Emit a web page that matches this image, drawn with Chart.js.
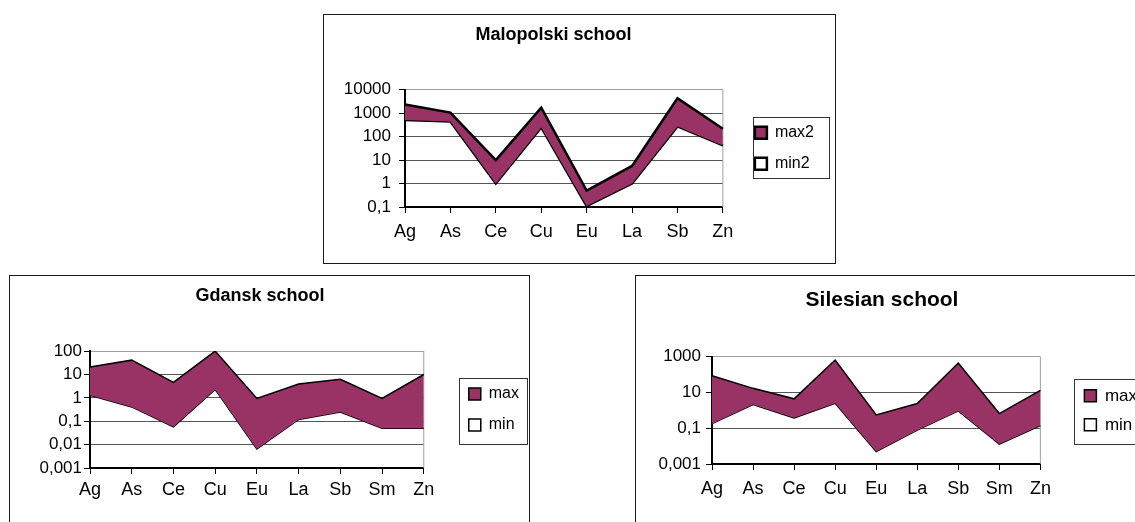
<!DOCTYPE html>
<html>
<head>
<meta charset="utf-8">
<title>Schools</title>
<script src="https://cdn.jsdelivr.net/npm/chart.js@4.4.1/dist/chart.umd.min.js"></script>
<style>
  html, body { margin: 0; padding: 0; background: #fff; width: 1135px; height: 522px; overflow: hidden; }
  .box { position: absolute; border: 1px solid #1a1a1a; background: #fff; }
  .wrap { position: absolute; }
</style>
</head>
<body>
<div class="box" style="left:323px; top:14px; width:511px; height:248px;"></div>
<div class="box" style="left:9px; top:275px; width:519px; height:300px;"></div>
<div class="box" style="left:635px; top:275px; width:600px; height:300px;"></div>

<div class="wrap" style="left:283px; top:15px; width:555px; height:248px;"><canvas id="malopolski"></canvas></div>
<div class="wrap" style="left:-9px; top:276px; width:538px; height:246px;"><canvas id="gdansk"></canvas></div>
<div class="wrap" style="left:617px; top:276px; width:530px; height:246px;"><canvas id="silesian"></canvas></div>

<script>
// Malopolski school
const malLabels = ['Ag', 'As', 'Ce', 'Cu', 'Eu', 'La', 'Sb', 'Zn'];
const malMax = [2300, 1050, 10, 1700, 0.5, 5.6, 4300, 215];
const malMin = [510, 440, 1, 245, 0.11, 1, 270, 42];
const malTicks = [0.1, 1, 10, 100, 1000, 10000];

// Gdansk school
const gdaLabels = ['Ag', 'As', 'Ce', 'Cu', 'Eu', 'La', 'Sb', 'Sm', 'Zn'];
const gdaMax = [21, 41, 4.6, 100, 0.95, 3.9, 6.2, 0.95, 10];
const gdaMin = [1.3, 0.41, 0.058, 2.3, 0.0065, 0.12, 0.25, 0.05, 0.05];
const gdaTicks = [0.001, 0.01, 0.1, 1, 10, 100];

// Silesian school
const silLabels = ['Ag', 'As', 'Ce', 'Cu', 'Eu', 'La', 'Sb', 'Sm', 'Zn'];
const silMax = [87, 17, 4.4, 650, 0.56, 2.4, 440, 0.66, 13];
const silMin = [0.18, 2.1, 0.38, 2.5, 0.005, 0.078, 0.93, 0.013, 0.14];
const silTicks = [0.001, 0.1, 10, 1000];

Chart.defaults.font.family = '"Liberation Sans", Arial, sans-serif';
Chart.defaults.color = '#000';

const plum = '#993366';

// gray frame on the right side of the plot area
const plotFrame = {
  id: 'plotFrame',
  beforeDatasetsDraw(chart) {
    const { ctx, chartArea: a } = chart;
    ctx.save();
    ctx.strokeStyle = '#a0a0a0';
    ctx.lineWidth = 1;
    ctx.beginPath();
    ctx.moveTo(a.right, a.top);
    ctx.lineTo(a.right, a.bottom);
    ctx.stroke();
    ctx.restore();
  }
};

// box around the legend, like excel
const legendFrame = {
  id: 'legendFrame',
  afterDraw(chart, args, opts) {
    const hb = chart.legend && chart.legend.legendHitBoxes;
    if (!hb || !hb.length) return;
    const first = hb[0];
    const last = hb[hb.length - 1];
    const left = first.left - opts.l;
    const right = Math.max(...hb.map(h => h.left + h.width)) + opts.r;
    const top = first.top - opts.t;
    const bottom = last.top + last.height + opts.b;
    const ctx = chart.ctx;
    ctx.save();
    ctx.strokeStyle = '#333';
    ctx.lineWidth = 1;
    ctx.strokeRect(Math.round(left) + 0.5, Math.round(top) + 0.5, Math.round(right - left), Math.round(bottom - top));
    ctx.restore();
  }
};

function schoolChart(id, s) {
  const yMin = s.ticks[0];
  const yMax = s.ticks[s.ticks.length - 1];
  return new Chart(document.getElementById(id), {
    type: 'line',
    data: {
      labels: s.labels,
      datasets: [
        {
          label: s.names[0],
          data: s.max,
          yAxisID: 'y',
          borderColor: '#000',
          borderWidth: s.lw,
          backgroundColor: plum,
          fill: '+1',
          pointRadius: 0,
          tension: 0,
        },
        {
          label: s.names[1],
          data: s.min,
          yAxisID: 'y',
          borderColor: '#000',
          borderWidth: s.lw,
          backgroundColor: '#fff',
          fill: false,
          pointRadius: 0,
          tension: 0,
        },
      ],
    },
    options: {
      responsive: true,
      maintainAspectRatio: false,
      animation: false,
      layout: { padding: { left: 0, top: 0, bottom: 0, right: s.padR } },
      scales: {
        x: {
          offset: false,
          afterFit: (sc) => { sc.height = s.xH; },
          grid: { drawOnChartArea: false, tickLength: 6, tickColor: '#000' },
          border: { color: '#000', width: 2 },
          ticks: { font: { size: 18 }, color: '#000', padding: s.xPad, maxRotation: 0, autoSkip: false },
        },
        y: {
          type: 'logarithmic',
          min: yMin,
          max: yMax,
          afterBuildTicks: (sc) => { sc.ticks = s.ticks.map(v => ({ value: v })); },
          afterFit: (sc) => { sc.width = s.yW; },
          grid: {
            color: (c) => (c.tick && c.tick.value === yMax ? '#a0a0a0' : '#555'),
            tickColor: '#000',
            tickLength: 6,
          },
          border: { color: '#000', width: 2 },
          ticks: {
            font: { size: 17 },
            color: '#000',
            padding: s.yPad,
            autoSkip: false,
            callback: (v) => String(v).replace('.', ','),
          },
        },
        gap: {
          type: 'linear',
          position: 'right',
          grid: { display: false },
          border: { display: false },
          ticks: { display: false },
          afterFit: (sc) => { sc.width = s.gapW; },
        },
      },
      plugins: {
        title: {
          display: true,
          text: s.title,
          color: '#000',
          font: { size: s.titleSize, weight: 'bold' },
          padding: { top: s.tTop, bottom: s.tBottom },
        },
        legend: {
          position: 'right',
          fullSize: false,
          labels: {
            boxWidth: 12,
            boxHeight: 12,
            padding: s.legPad,
            color: '#000',
            font: { size: s.legSize },
          },
        },
        legendFrame: s.frame,
        tooltip: { enabled: false },
      },
    },
    plugins: [plotFrame, legendFrame],
  });
}

schoolChart('malopolski', {
  title: 'Malopolski school', titleSize: 18, tTop: 9.5, tBottom: 43.5,
  labels: malLabels, max: malMax, min: malMin, ticks: malTicks,
  names: ['max2', 'min2'], lw: 2.5,
  xH: 56, yW: 122, yPad: 8, xPad: 8, gapW: 17, padR: 14,
  legPad: 15, legSize: 16, frame: { l: 2, r: 15, t: 8, b: 6 },
});

schoolChart('gdansk', {
  title: 'Gdansk school', titleSize: 18, tTop: 9.5, tBottom: 44,
  labels: gdaLabels, max: gdaMax, min: gdaMin, ticks: gdaTicks,
  names: ['max', 'min'], lw: 1.5,
  xH: 54, yW: 99, yPad: 2, xPad: 5, gapW: 30, padR: 0,
  legPad: 15, legSize: 16, frame: { l: 10, r: 8, t: 8, b: 11 },
});

schoolChart('silesian', {
  title: 'Silesian school', titleSize: 21, tTop: 11.5, tBottom: 44,
  labels: silLabels, max: silMax, min: silMin, ticks: silTicks,
  names: ['max', 'min'], lw: 1.5,
  xH: 58, yW: 95, yPad: 5, xPad: 8, gapW: 32, padR: 0,
  legPad: 12, legSize: 17, frame: { l: 10, r: 8, t: 8.5, b: 10.5 },
});
</script>
</body>
</html>
